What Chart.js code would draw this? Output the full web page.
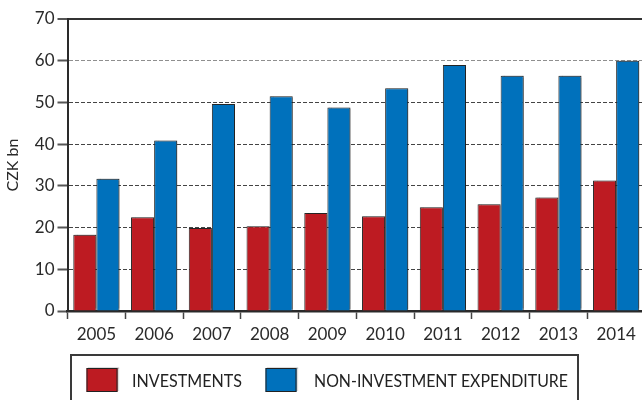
<!DOCTYPE html>
<html>
<head>
<meta charset="utf-8">
<script src="https://cdn.jsdelivr.net/npm/chart.js@4/dist/chart.umd.min.js"></script>
<style>
  html, body { margin: 0; padding: 0; overflow: hidden; background: #fff; }
  #wrap { width: 650px; height: 410px; }
</style>
</head>
<body>
<div id="wrap"><canvas id="c" width="650" height="410"></canvas></div>
<script>
const categories = ['2005', '2006', '2007', '2008', '2009', '2010', '2011', '2012', '2013', '2014'];
const investments = [18.3, 22.5, 19.9, 20.3, 23.5, 22.7, 24.9, 25.6, 27.2, 31.3];
const nonInvestment = [31.7, 40.9, 49.6, 51.5, 48.8, 53.4, 59.0, 56.4, 56.4, 60.0];
const seriesLabels = ['INVESTMENTS', 'NON-INVESTMENT EXPENDITURE'];
const yTicks = [0, 10, 20, 30, 40, 50, 60, 70];
const yTitle = 'CZK bn';

const RED = '#BD1B22';
const BLUE = '#0071BC';
const FONT = 'Lato, "Open Sans", sans-serif';

const shadowPlugin = {
  id: 'barShadow',
  beforeDatasetsDraw(chart) {
    const ctx = chart.ctx;
    ctx.save();
    ctx.shadowColor = 'rgba(0,0,0,0.28)';
    ctx.shadowOffsetX = 1.5;
    ctx.shadowOffsetY = -1.5;
    ctx.shadowBlur = 1;
  },
  afterDatasetsDraw(chart) {
    chart.ctx.restore();
  }
};

const boxLegend = {
  id: 'boxLegend',
  afterDraw(chart) {
    const ctx = chart.ctx;
    ctx.save();
    ctx.strokeStyle = '#3a3a3a';
    ctx.lineWidth = 2;
    ctx.strokeRect(71, 355, 507, 80);
    const items = [
      { sx: 86.5, tx: 132, tw: 110 },
      { sx: 265.5, tx: 314, tw: 254 }
    ];
    chart.data.datasets.forEach((ds, i) => {
      const it = items[i];
      ctx.save();
      ctx.shadowColor = 'rgba(0,0,0,0.28)';
      ctx.shadowOffsetX = 1.5;
      ctx.shadowOffsetY = -1.5;
      ctx.shadowBlur = 1;
      ctx.fillStyle = ds.backgroundColor;
      ctx.fillRect(it.sx, 368, 31, 24);
      ctx.restore();
      ctx.strokeStyle = '#222';
      ctx.lineWidth = 1;
      ctx.strokeRect(it.sx + 0.5, 368.5, 30, 23);
      ctx.save();
      ctx.fillStyle = '#222';
      ctx.font = '18px ' + FONT;
      ctx.textBaseline = 'middle';
      ctx.textAlign = 'left';
      const w = ctx.measureText(ds.label).width;
      const sx = Math.min(1, it.tw / w);
      ctx.translate(it.tx, 381);
      ctx.scale(sx, 1);
      ctx.fillText(ds.label, 0, 0);
      ctx.restore();
    });
    ctx.restore();
  }
};

new Chart(document.getElementById('c'), {
  type: 'bar',
  data: {
    labels: categories,
    datasets: [
      { label: seriesLabels[0], data: investments, backgroundColor: RED, borderColor: '#2a2a2a', borderWidth: 1 },
      { label: seriesLabels[1], data: nonInvestment, backgroundColor: BLUE, borderColor: '#2a2a2a', borderWidth: 1 }
    ]
  },
  options: {
    responsive: false,
    animation: false,
    devicePixelRatio: 1,
    layout: { padding: { left: 0, right: 5, top: 19, bottom: 69 } },
    datasets: { bar: { categoryPercentage: 0.8, barPercentage: 1.0 } },
    plugins: {
      legend: { display: false },
      tooltip: { enabled: false },
      title: { display: false }
    },
    scales: {
      x: {
        z: 1,
        offset: true,
        grid: {
          offset: true,
          drawOnChartArea: false,
          drawTicks: true,
          tickLength: 8,
          tickColor: '#444',
          tickWidth: 1.5
        },
        border: { display: true, color: '#2a2a2a', width: 2.5 },
        ticks: {
          color: '#2a2a2a',
          font: { family: FONT, size: 17 },
          padding: 5,
          maxRotation: 0,
          autoSkip: false
        },
        afterFit(scale) { scale.height = 30; }
      },
      y: {
        min: 0,
        max: 70,
        afterBuildTicks(scale) { scale.ticks = yTicks.map(v => ({ value: v })); },
        grid: {
          color: (c) => c.tick && c.tick.value === 70 ? '#333' : (c.tick && c.tick.value === 60 ? '#8f8f8f' : '#444'),
          lineWidth: (c) => c.tick && c.tick.value === 70 ? 2 : 1,
          drawTicks: true,
          tickLength: 10,
          tickColor: '#555',
          tickWidth: 2
        },
        border: {
          display: true,
          color: '#2a2a2a',
          width: 2,
          dash: (c) => (c.tick && (c.tick.value === 70 || c.tick.value === 0)) ? [] : [4, 2]
        },
        ticks: {
          color: '#2a2a2a',
          font: { family: FONT, size: 17 },
          padding: 3
        },
        title: {
          display: true,
          text: yTitle,
          color: '#2a2a2a',
          font: { family: FONT, size: 16 },
          padding: { top: 3, bottom: 0 }
        },
        afterFit(scale) { scale.width = 67.5; }
      }
    }
  },
  plugins: [shadowPlugin, boxLegend]
});
</script>
</body>
</html>
